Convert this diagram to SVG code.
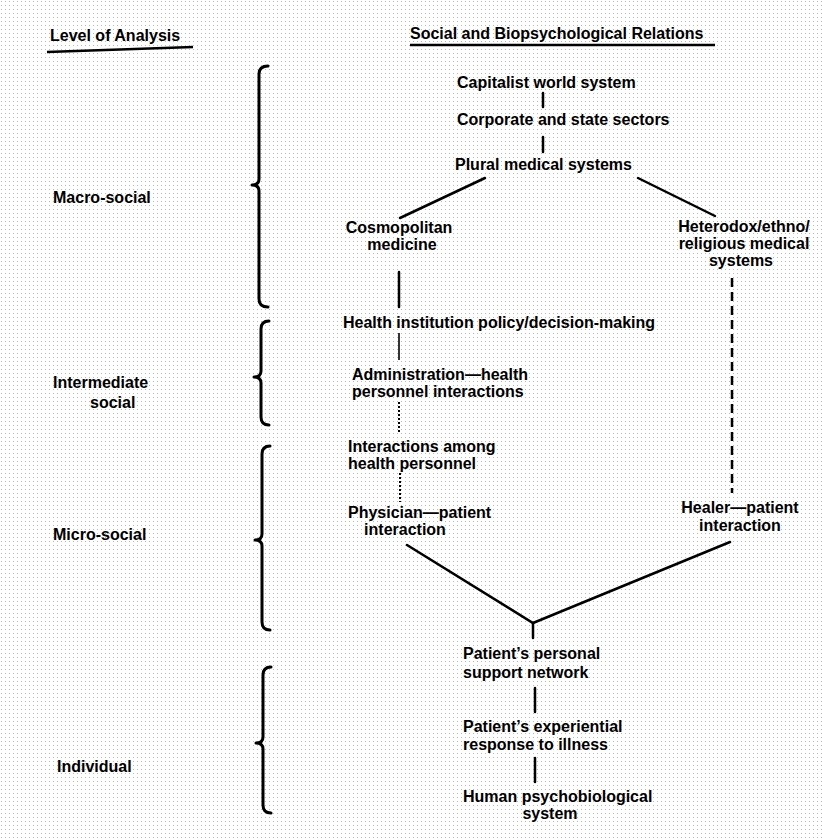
<svg xmlns="http://www.w3.org/2000/svg" width="822" height="840" viewBox="0 0 822 840">
<style>
  text { font-family: "Liberation Sans", Arial, sans-serif; font-weight: bold; font-size: 16px; fill: #000; }
  .mid { text-anchor: middle; }
  .ln { stroke: #000; stroke-width: 2.5; fill: none; stroke-linecap: round; }
  .thin { stroke: #000; stroke-width: 1.6; fill: none; }
  .dot { stroke: #000; stroke-width: 2; fill: none; stroke-dasharray: 2 2; }
  .dash { stroke: #000; stroke-width: 2.5; fill: none; stroke-dasharray: 9 5; }
  .brace { stroke: #000; stroke-width: 3; fill: none; stroke-linecap: round; stroke-linejoin: round; }
  .ul { stroke: #000; stroke-width: 2.5; fill: none; }
</style>
<defs>
  <pattern id="halftone" width="4" height="4" patternUnits="userSpaceOnUse">
    <rect x="1" y="1" width="1" height="1" fill="#b8b8b8"/>
  </pattern>
</defs>
<rect width="822" height="840" fill="#fff"/>
<rect width="822" height="840" fill="url(#halftone)"/>

<g id="headers">
  <g id="hdr-level">
    <text x="50" y="41">Level of Analysis</text>
    <path class="ul" d="M47 52 L193 47"/>
  </g>
  <g id="hdr-relations">
    <text x="410" y="39">Social and Biopsychological Relations</text>
    <path class="ul" d="M410 45 L715 45"/>
  </g>
</g>

<g id="levels">
  <g id="level-macro">
    <path class="brace" d="M268 66 Q259 66 259 74 L259 179 Q259 185 252 185 Q259 185 259 191 L259 299 Q259 307 268 307"/>
    <text x="53" y="203">Macro-social</text>
  </g>
  <g id="level-intermediate">
    <path class="brace" d="M269 321 Q261 321 261 329 L261 371 Q261 377 254 377 Q261 377 261 383 L261 417 Q261 425 269 425"/>
    <text x="53" y="388">Intermediate</text>
    <text x="90" y="408">social</text>
  </g>
  <g id="level-micro">
    <path class="brace" d="M270 446 Q262 446 262 454 L262 534 Q262 540 255 540 Q262 540 262 546 L262 622 Q262 630 270 630"/>
    <text x="53" y="540">Micro-social</text>
  </g>
  <g id="level-individual">
    <path class="brace" d="M271 667 Q263 667 263 675 L263 737 Q263 743 256 743 Q263 743 263 749 L263 805 Q263 813 271 813"/>
    <text x="57" y="772">Individual</text>
  </g>
</g>

<g id="connectors">
  <path class="ln" d="M543 93 L543 107"/>
  <path class="ln" d="M543 137 L543 152"/>
  <path class="ln" d="M485 178 L400 218"/>
  <path class="ln" d="M638 178 L715 216"/>
  <path class="ln" d="M399 272 L399 307"/>
  <path class="thin" d="M399 333 L399 360"/>
  <path class="dot" d="M399 402 L399 433"/>
  <path class="dot" d="M400 473 L400 502"/>
  <path class="dash" d="M732 278 L732 493"/>
  <path class="ln" d="M407 545 L533 623 L730 542"/>
  <path class="ln" d="M533 623 L533 638"/>
  <path class="ln" d="M535 688 L535 712"/>
  <path class="ln" d="M535 758 L535 782"/>
</g>

<g id="node-capitalist"><text x="457" y="88">Capitalist world system</text></g>
<g id="node-corporate"><text x="457" y="125">Corporate and state sectors</text></g>
<g id="node-plural"><text x="455" y="170">Plural medical systems</text></g>
<g id="node-cosmopolitan">
  <text class="mid" x="399" y="233">Cosmopolitan</text>
  <text class="mid" x="402" y="250">medicine</text>
</g>
<g id="node-heterodox">
  <text class="mid" x="744" y="232">Heterodox/ethno/</text>
  <text class="mid" x="744" y="249">religious medical</text>
  <text class="mid" x="741" y="266">systems</text>
</g>
<g id="node-health-institution"><text x="343" y="328">Health institution policy/decision-making</text></g>
<g id="node-administration">
  <text x="352" y="380">Administration—health</text>
  <text x="352" y="397">personnel interactions</text>
</g>
<g id="node-interactions">
  <text x="348" y="452">Interactions among</text>
  <text x="348" y="469">health personnel</text>
</g>
<g id="node-physician">
  <text x="348" y="518">Physician—patient</text>
  <text class="mid" x="405" y="535">interaction</text>
</g>
<g id="node-healer">
  <text class="mid" x="740" y="513">Healer—patient</text>
  <text class="mid" x="740" y="531">interaction</text>
</g>
<g id="node-support">
  <text x="463" y="659">Patient’s personal</text>
  <text x="463" y="678">support network</text>
</g>
<g id="node-experiential">
  <text x="463" y="732">Patient’s experiential</text>
  <text x="463" y="750">response to illness</text>
</g>
<g id="node-psychobiological">
  <text x="463" y="802">Human psychobiological</text>
  <text class="mid" x="550" y="819">system</text>
</g>
</svg>
